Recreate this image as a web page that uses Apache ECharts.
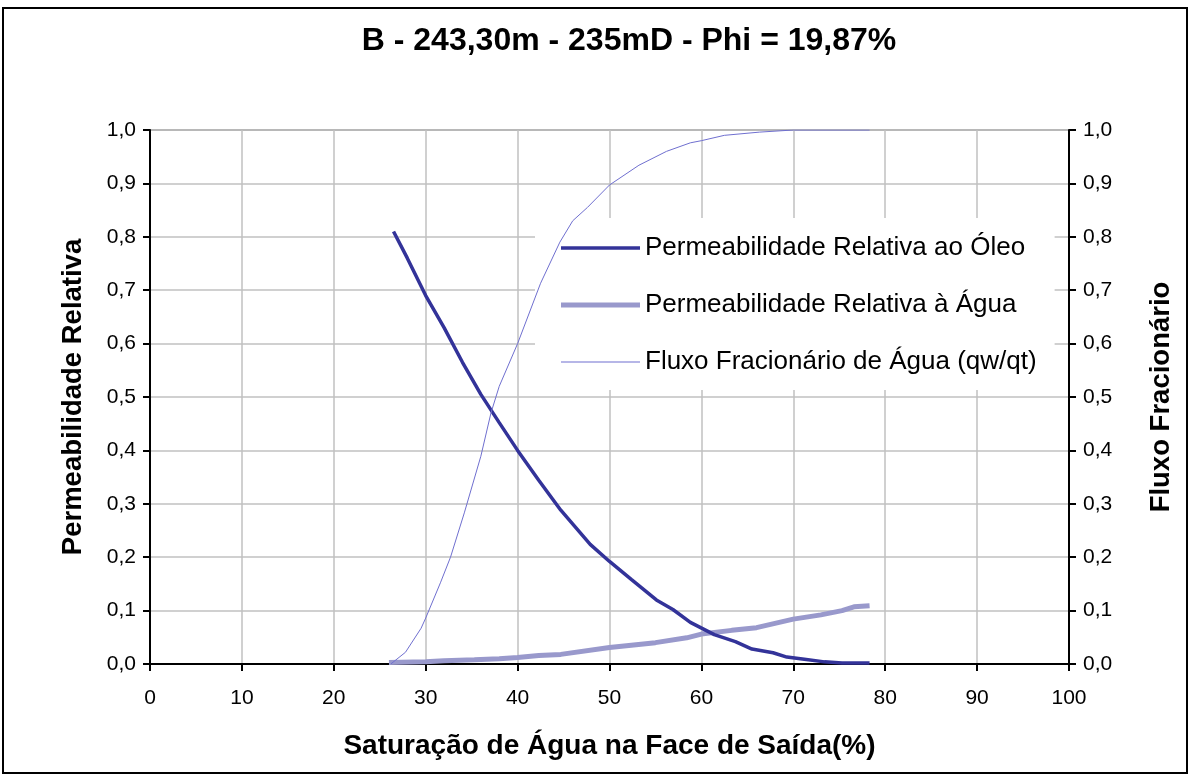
<!DOCTYPE html>
<html>
<head>
<meta charset="utf-8">
<script src="https://cdn.jsdelivr.net/npm/echarts@6/dist/echarts.min.js"></script>
<style>
  html, body { margin: 0; padding: 0; background: #fff; }
  #chart { width: 1190px; height: 776px; }
</style>
</head>
<body>
<div id="chart"></div>
<script>
// Relative permeability curves, sample B
const chartTitle = 'B - 243,30m - 235mD - Phi = 19,87%';
const xName = 'Saturação de Água na Face de Saída(%)';
const yLeftName = 'Permeabilidade Relativa';
const yRightName = 'Fluxo Fracionário';
const seriesNames = [
  'Permeabilidade Relativa ao Óleo',
  'Permeabilidade Relativa à Água',
  'Fluxo Fracionário de Água (qw/qt)'
];

// Oil relative permeability (kro) vs water saturation (%)
const oilSw = [26.5, 28, 30, 32, 34, 36, 38, 40, 42.3, 44.7, 47.9, 50, 52.4, 55.1, 56.9, 58.8, 61.4, 63.7, 65.5, 67.8, 69.3, 71.2, 73.4, 75.3, 78.3];
const oilKr = [0.81, 0.76, 0.69, 0.63, 0.565, 0.505, 0.452, 0.40, 0.344, 0.288, 0.224, 0.192, 0.158, 0.12, 0.102, 0.078, 0.055, 0.042, 0.028, 0.021, 0.013, 0.009, 0.004, 0.002, 0.002];

// Water relative permeability (krw) vs water saturation (%)
const waterSw = [26, 30, 32, 35.3, 38, 40, 42.3, 44.7, 50, 55, 58.4, 60, 63.3, 66, 70, 73, 75.3, 76.6, 78.3];
const waterKr = [0.003, 0.004, 0.006, 0.008, 0.010, 0.012, 0.016, 0.018, 0.031, 0.040, 0.049, 0.056, 0.063, 0.068, 0.084, 0.092, 0.100, 0.107, 0.109];

// Water fractional flow (qw/qt) vs water saturation (%)
const flowSw = [26.2, 27.8, 29.5, 30, 31.6, 32.7, 34.2, 36, 37.1, 38, 40, 42.5, 44.6, 46, 47.6, 50, 53.2, 56.2, 58.8, 60, 62.5, 66.3, 70, 78.3];
const flowFw = [0, 0.022, 0.067, 0.086, 0.152, 0.2, 0.283, 0.389, 0.47, 0.52, 0.6, 0.713, 0.79, 0.83, 0.855, 0.897, 0.934, 0.96, 0.976, 0.98, 0.99, 0.996, 1.0, 1.0];

const xTicks = { min: 0, max: 100, step: 10 };
const yTicks = { min: 0, max: 1, step: 0.1 };

const pairs = (xs, ys) => xs.map((x, i) => [x, ys[i]]);
const fmtComma = v => v.toFixed(1).replace('.', ',');

const FONT = '"Liberation Sans", Arial, sans-serif';

// Colours and stroke widths of the three curves
const oilColor = '#333399', oilWidth = 3.5;
const waterColor = '#9999cc', waterWidth = 5;
const flowColor = '#6f6fcf', flowWidth = 1;

// Legend swatch: a horizontal bar as thick as the curve it stands for
const barIcon = h => 'path://M0,0H79V' + h + 'H0Z';

const chart = echarts.init(document.getElementById('chart'), null, { renderer: 'canvas' });

const yAxisBase = {
  type: 'value',
  min: yTicks.min,
  max: yTicks.max,
  interval: yTicks.step,
  nameLocation: 'middle',
  nameRotate: 90,
  nameTextStyle: { fontFamily: FONT, fontSize: 27.5, fontWeight: 'bold', color: '#000' },
  axisLine: { show: true, lineStyle: { color: '#000', width: 2 } },
  axisTick: { show: true, inside: false, length: 7, lineStyle: { color: '#000', width: 2 } },
  axisLabel: { fontFamily: FONT, fontSize: 21, color: '#000', margin: 14, formatter: fmtComma }
};

chart.setOption({
  backgroundColor: '#fff',
  animation: false,
  title: {
    text: chartTitle,
    left: 624,
    top: 20,
    textAlign: 'center',
    textStyle: { fontFamily: FONT, fontSize: 32, fontWeight: 'bold', color: '#000' }
  },
  grid: {
    left: 150, top: 130, right: 121, bottom: 112,
    show: true, borderColor: '#808080', borderWidth: 1.5, backgroundColor: '#fff'
  },
  legend: {
    orient: 'vertical',
    left: 535,
    top: 218,
    padding: [15, 18, 13, 26],
    backgroundColor: '#fff',
    itemWidth: 79,
    itemHeight: 14,
    itemGap: 27,
    symbolKeepAspect: true,
    textStyle: { fontFamily: FONT, fontSize: 26, color: '#000', lineHeight: 30 },
    data: [
      { name: seriesNames[0], icon: barIcon(oilWidth) },
      { name: seriesNames[1], icon: barIcon(waterWidth) },
      { name: seriesNames[2], icon: barIcon(flowWidth) }
    ]
  },
  xAxis: {
    type: 'value',
    min: xTicks.min,
    max: xTicks.max,
    interval: xTicks.step,
    name: xName,
    nameLocation: 'middle',
    nameGap: 68,
    nameTextStyle: { fontFamily: FONT, fontSize: 28, fontWeight: 'bold', color: '#000' },
    axisLine: { show: true, onZero: false, lineStyle: { color: '#000', width: 2 } },
    axisTick: { show: true, inside: false, length: 7, lineStyle: { color: '#000', width: 2 } },
    axisLabel: { fontFamily: FONT, fontSize: 21, color: '#000', margin: 24 },
    splitLine: { show: true, lineStyle: { color: '#c0c0c0', width: 1.5 } }
  },
  yAxis: [
    Object.assign({}, yAxisBase, {
      position: 'left',
      name: yLeftName,
      nameGap: 63,
      splitLine: { show: true, lineStyle: { color: '#c0c0c0', width: 1.5 } }
    }),
    Object.assign({}, yAxisBase, {
      position: 'right',
      name: yRightName,
      nameGap: 78,
      nameRotate: 90,
      splitLine: { show: false }
    })
  ],
  series: [
    {
      name: seriesNames[0],
      type: 'line',
      yAxisIndex: 0,
      z: 6,
      showSymbol: false,
      symbol: 'none',
      color: oilColor,
      lineStyle: { color: oilColor, width: oilWidth },
      data: pairs(oilSw, oilKr)
    },
    {
      name: seriesNames[1],
      type: 'line',
      yAxisIndex: 0,
      z: 5,
      showSymbol: false,
      symbol: 'none',
      color: waterColor,
      lineStyle: { color: waterColor, width: waterWidth },
      data: pairs(waterSw, waterKr)
    },
    {
      name: seriesNames[2],
      type: 'line',
      yAxisIndex: 1,
      z: 7,
      showSymbol: false,
      symbol: 'none',
      color: flowColor,
      lineStyle: { color: flowColor, width: flowWidth },
      data: pairs(flowSw, flowFw)
    }
  ],
  graphic: [
    {
      type: 'rect',
      z: 100,
      silent: true,
      shape: { x: 3, y: 8, width: 1184, height: 765 },
      style: { fill: 'none', stroke: '#000', lineWidth: 2 }
    }
  ]
});
</script>
</body>
</html>
